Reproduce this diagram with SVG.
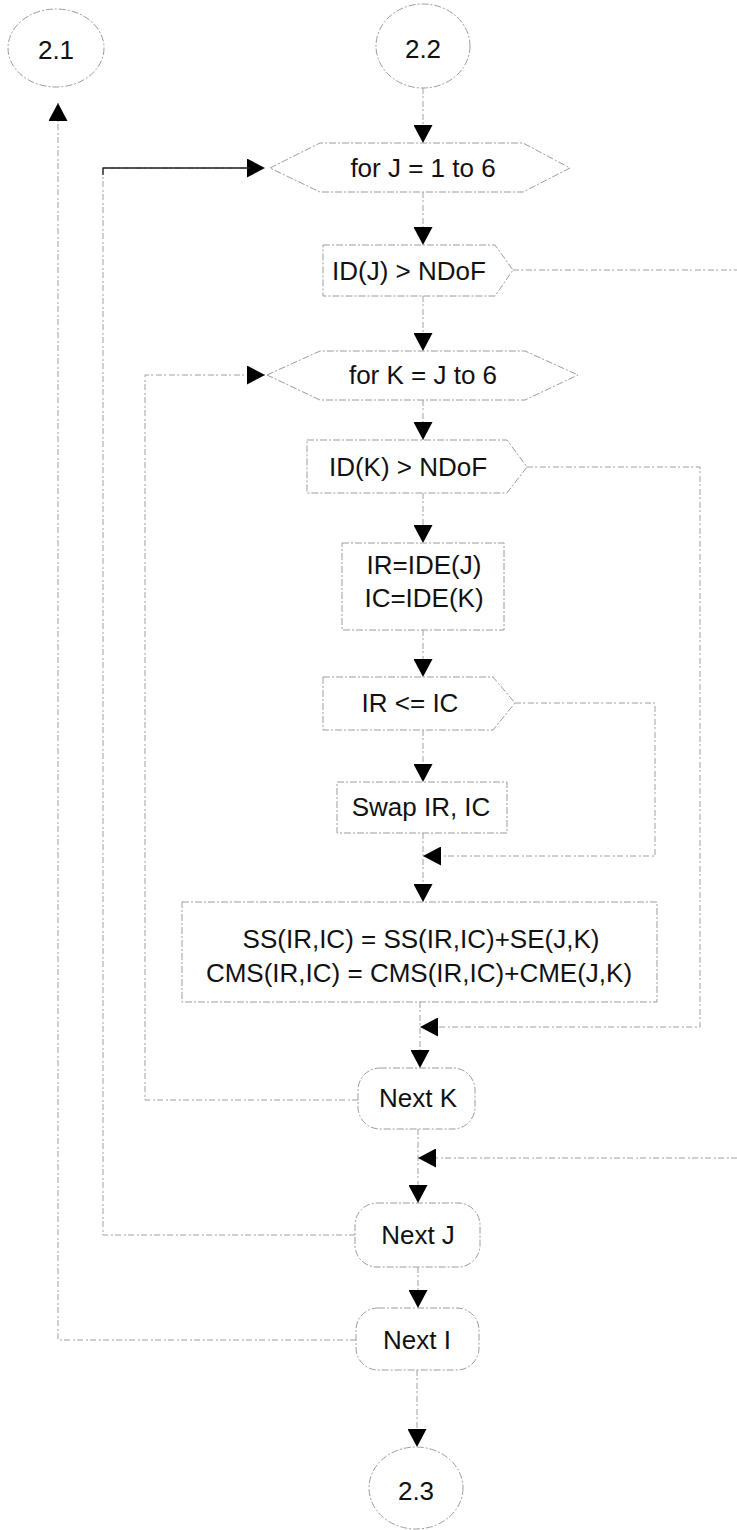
<svg xmlns="http://www.w3.org/2000/svg" width="737" height="1530" viewBox="0 0 737 1530">
<style>
.shape{fill:none;stroke:#9c9c9c;stroke-width:1;stroke-dasharray:7 2 2 2}
.conn{fill:none;stroke:#a0a0a0;stroke-width:1;stroke-dasharray:6 2 2 3}
.solid{fill:none;stroke:#222;stroke-width:1.3}
.t{font-family:"Liberation Sans",Arial,sans-serif;font-size:26px;fill:#111;text-anchor:middle}
</style>
<defs>
<marker id="ah" viewBox="0 0 18 19" refX="18" refY="9.5" markerWidth="18" markerHeight="19" markerUnits="userSpaceOnUse" orient="auto">
<path d="M0,0 L18,9.5 L0,19 z" fill="#000"/>
</marker>
</defs>
<rect width="737" height="1530" fill="#fff"/>

<g id="connectors">
<path class="conn" d="M423,88 V143" marker-end="url(#ah)"/>
<path class="conn" d="M423,192 V245" marker-end="url(#ah)"/>
<path class="conn" d="M423,296 V351" marker-end="url(#ah)"/>
<path class="conn" d="M423,400 V440" marker-end="url(#ah)"/>
<path class="conn" d="M423,493 V543" marker-end="url(#ah)"/>
<path class="conn" d="M423,630 V677" marker-end="url(#ah)"/>
<path class="conn" d="M423,730 V782" marker-end="url(#ah)"/>
<path class="conn" d="M423,833 V902" marker-end="url(#ah)"/>
<path class="conn" d="M420,1002 V1068" marker-end="url(#ah)"/>
<path class="conn" d="M418,1129 V1203" marker-end="url(#ah)"/>
<path class="conn" d="M418,1267 V1308" marker-end="url(#ah)"/>
<path class="conn" d="M417,1370 V1447" marker-end="url(#ah)"/>
<path class="conn" d="M515,703 H655 V856 H423" marker-end="url(#ah)"/>
<path class="conn" d="M527,467 H700 V1027 H420" marker-end="url(#ah)"/>
<path class="conn" d="M513,270 H737"/>
<path class="conn" d="M737,1158 H418" marker-end="url(#ah)"/>
<path class="conn" d="M358,1100 H145 V375 H265" marker-end="url(#ah)"/>
<path class="conn" d="M355,1235 H103 V168 H265" marker-end="url(#ah)"/>
<path class="solid" d="M103,175 V168 H250"/>
<path class="conn" d="M356,1340 H58 V103" marker-end="url(#ah)"/>
</g>

<g id="n21">
<ellipse class="shape" cx="56" cy="48" rx="48" ry="39"/>
<text class="t" x="56" y="59">2.1</text>
</g>
<g id="n22">
<ellipse class="shape" cx="423" cy="46" rx="47" ry="42"/>
<text class="t" x="423" y="58">2.2</text>
</g>
<g id="forJ">
<polygon class="shape" points="270,168 320,143 523,143 570,168 523,192 320,192"/>
<text class="t" x="423" y="177">for J = 1 to 6</text>
</g>
<g id="idJ">
<polygon class="shape" points="323,245 495,245 513,270 495,296 323,296"/>
<text class="t" x="409" y="280">ID(J) &gt; NDoF</text>
</g>
<g id="forK">
<polygon class="shape" points="267,375 320,351 525,351 578,375 525,400 320,400"/>
<text class="t" x="423" y="384">for K = J to 6</text>
</g>
<g id="idK">
<polygon class="shape" points="307,440 507,440 527,467 507,493 307,493"/>
<text class="t" x="408" y="476">ID(K) &gt; NDoF</text>
</g>
<g id="ide">
<rect class="shape" x="342" y="543" width="162" height="87"/>
<text class="t" x="424" y="574">IR=IDE(J)</text>
<text class="t" x="424" y="607">IC=IDE(K)</text>
</g>
<g id="irle">
<polygon class="shape" points="323,677 493,677 515,703 493,730 323,730"/>
<text class="t" x="410" y="712">IR &lt;= IC</text>
</g>
<g id="swap">
<rect class="shape" x="337" y="782" width="170" height="51"/>
<text class="t" x="421" y="816">Swap IR, IC</text>
</g>
<g id="ss">
<rect class="shape" x="182" y="902" width="475" height="100"/>
<text class="t" x="421" y="948">SS(IR,IC) = SS(IR,IC)+SE(J,K)</text>
<text class="t" x="419" y="982">CMS(IR,IC) = CMS(IR,IC)+CME(J,K)</text>
</g>
<g id="nextK">
<rect class="shape" x="358" y="1068" width="117" height="61" rx="22"/>
<text class="t" x="418" y="1107">Next K</text>
</g>
<g id="nextJ">
<rect class="shape" x="355" y="1203" width="125" height="64" rx="22"/>
<text class="t" x="418" y="1244">Next J</text>
</g>
<g id="nextI">
<rect class="shape" x="356" y="1308" width="123" height="62" rx="22"/>
<text class="t" x="417" y="1349">Next I</text>
</g>
<g id="n23">
<ellipse class="shape" cx="416" cy="1488" rx="47" ry="41"/>
<text class="t" x="416" y="1500">2.3</text>
</g>
</svg>
